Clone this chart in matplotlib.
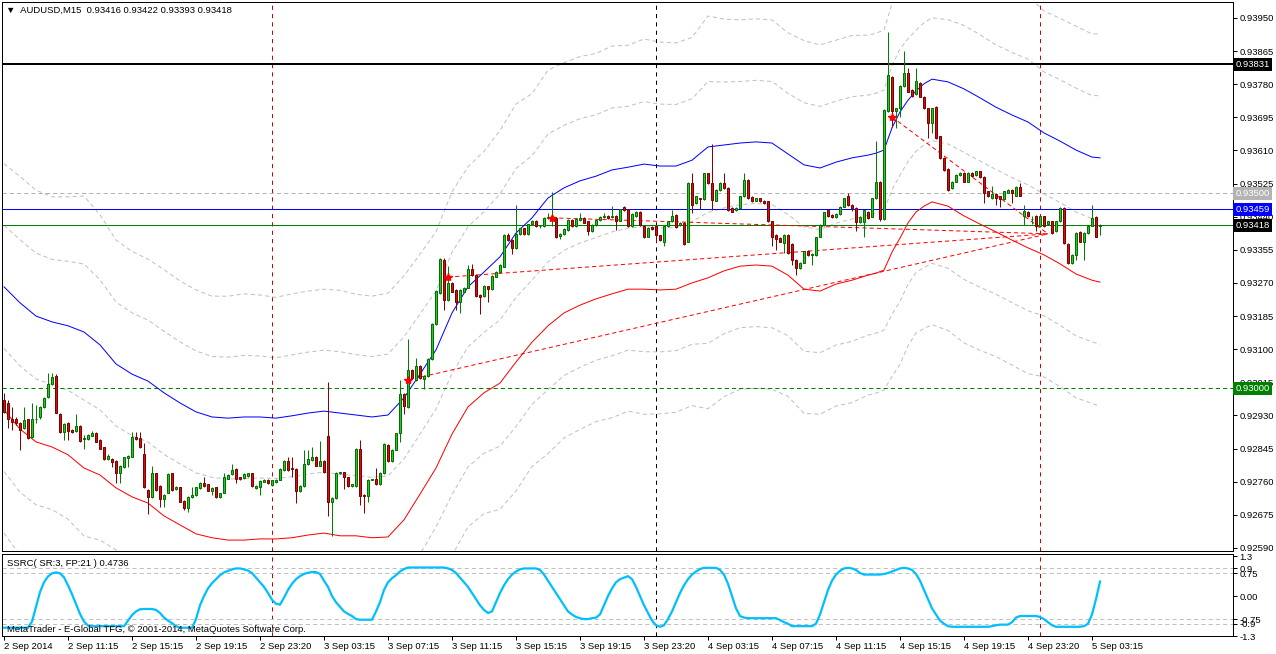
import matplotlib
matplotlib.use("Agg")
import matplotlib.pyplot as plt
import numpy as np

plt.rcParams['font.family'] = ['Liberation Sans', 'DejaVu Sans']
plt.rcParams['lines.scale_dashes'] = False

# prices are written in 1e-5 units (points)
opens = [
    92969, 92961, 92922, 92920, 92910, 92897, 92920, 92874, 92920, 92925,
    92951, 92976, 93010, 93031, 92934, 92888, 92911, 92892, 92890, 92903,
    92869, 92869, 92878, 92886, 92867, 92848, 92818, 92818, 92813, 92781,
    92798, 92820, 92824, 92874, 92871, 92831, 92739, 92720, 92781, 92749,
    92715, 92732, 92781, 92740, 92745, 92710, 92692, 92721, 92726, 92743,
    92756, 92753, 92737, 92745, 92720, 92732, 92768, 92779, 92792, 92771,
    92770, 92774, 92781, 92743, 92747, 92760, 92764, 92752, 92759, 92765,
    92790, 92812, 92795, 92792, 92737, 92749, 92806, 92816, 92823, 92801,
    92814, 92876, 92709, 92717, 92782, 92784, 92771, 92749, 92749, 92844,
    92726, 92722, 92765, 92767, 92753, 92782, 92854, 92812, 92842, 92884,
    92985, 92951, 93047, 93021, 93057, 93023, 93031, 93075, 93165, 93243,
    93329, 93226, 93271, 93252, 93222, 93248, 93258, 93306, 93291, 93239,
    93237, 93261, 93254, 93286, 93297, 93312, 93393, 93380, 93360, 93395,
    93410, 93395, 93420, 93430, 93415, 93416, 93436, 93437, 93436, 93391,
    93395, 93406, 93432, 93416, 93432, 93436, 93428, 93402, 93419, 93432,
    93439, 93442, 93439, 93442, 93430, 93466, 93459, 93415, 93442, 93453,
    93415, 93389, 93413, 93415, 93392, 93376, 93415, 93428, 93445, 93419,
    93425, 93376, 93526, 93475, 93487, 93485, 93551, 93526, 93481, 93509,
    93526, 93513, 93462, 93456, 93462, 93492, 93534, 93490, 93481, 93487,
    93481, 93479, 93428, 93393, 93385, 93372, 93393, 93370, 93329, 93308,
    93322, 93352, 93342, 93342, 93389, 93419, 93456, 93445, 93439, 93447,
    93466, 93493, 93470, 93462, 93427, 93427, 93453, 93440, 93487, 93530,
    93434, 93710, 93798, 93710, 93718, 93776, 93808, 93765, 93755, 93784,
    93748, 93718, 93680, 93721, 93646, 93590, 93563, 93513, 93530, 93547,
    93553, 93530, 93553, 93547, 93556, 93543, 93505, 93488, 93499, 93492,
    93485, 93502, 93509, 93494, 93517, 93441, 93453, 93433, 93442, 93415,
    93441, 93422, 93428, 93402, 93428, 93462, 93370, 93321, 93342, 93400,
    93376, 93398, 93417, 93439, 93416]
highs = [
    92987, 92969, 92952, 92925, 92912, 92952, 92922, 92961, 92957, 92955,
    92976, 93038, 93038, 93036, 92936, 92910, 92913, 92894, 92934, 92905,
    92880, 92882, 92890, 92888, 92869, 92850, 92830, 92820, 92815, 92802,
    92824, 92828, 92888, 92888, 92888, 92858, 92741, 92800, 92783, 92751,
    92728, 92782, 92783, 92749, 92747, 92712, 92723, 92747, 92747, 92758,
    92773, 92755, 92746, 92747, 92732, 92781, 92779, 92805, 92794, 92773,
    92781, 92783, 92783, 92751, 92764, 92766, 92766, 92764, 92766, 92794,
    92815, 92824, 92823, 92794, 92751, 92841, 92841, 92850, 92825, 92865,
    92816, 93015, 92720, 92784, 92786, 92786, 92773, 92755, 92846, 92867,
    92728, 92767, 92768, 92794, 92784, 92859, 92856, 92844, 92886, 93021,
    92987, 93126, 93049, 93077, 93059, 93033, 93077, 93167, 93252, 93334,
    93333, 93314, 93273, 93254, 93254, 93260, 93316, 93319, 93293, 93241,
    93264, 93263, 93291, 93301, 93318, 93395, 93398, 93382, 93470, 93412,
    93412, 93422, 93432, 93432, 93418, 93438, 93449, 93504, 93438, 93397,
    93410, 93434, 93434, 93436, 93449, 93438, 93430, 93421, 93434, 93442,
    93449, 93444, 93468, 93444, 93461, 93468, 93461, 93449, 93455, 93455,
    93417, 93414, 93415, 93417, 93394, 93417, 93430, 93456, 93447, 93427,
    93427, 93528, 93551, 93494, 93489, 93553, 93553, 93627, 93511, 93528,
    93551, 93515, 93464, 93464, 93494, 93551, 93536, 93492, 93489, 93489,
    93483, 93481, 93430, 93395, 93387, 93395, 93395, 93372, 93331, 93324,
    93353, 93354, 93346, 93389, 93421, 93453, 93458, 93447, 93449, 93468,
    93489, 93500, 93472, 93464, 93442, 93458, 93455, 93489, 93633, 93532,
    93716, 93915, 93800, 93720, 93778, 93864, 93821, 93767, 93821, 93786,
    93750, 93720, 93720, 93723, 93648, 93592, 93565, 93532, 93549, 93555,
    93555, 93555, 93555, 93558, 93558, 93545, 93507, 93519, 93501, 93494,
    93507, 93511, 93511, 93519, 93526, 93470, 93455, 93441, 93444, 93443,
    93443, 93430, 93430, 93430, 93464, 93464, 93372, 93344, 93400, 93402,
    93400, 93419, 93470, 93441, 93422]
lows = [
    92937, 92897, 92892, 92905, 92841, 92895, 92870, 92872, 92910, 92922,
    92949, 92974, 93008, 92935, 92886, 92867, 92867, 92885, 92888, 92863,
    92843, 92866, 92876, 92861, 92843, 92815, 92815, 92798, 92756, 92756,
    92796, 92798, 92822, 92867, 92846, 92743, 92677, 92718, 92737, 92696,
    92696, 92730, 92737, 92738, 92707, 92686, 92683, 92719, 92724, 92741,
    92747, 92735, 92726, 92719, 92718, 92730, 92766, 92777, 92756, 92765,
    92768, 92772, 92747, 92741, 92726, 92758, 92754, 92749, 92757, 92763,
    92788, 92788, 92773, 92706, 92733, 92747, 92804, 92814, 92799, 92799,
    92782, 92673, 92621, 92715, 92780, 92741, 92747, 92747, 92747, 92700,
    92679, 92709, 92763, 92751, 92751, 92780, 92810, 92810, 92840, 92863,
    92934, 92949, 93023, 93019, 93023, 92999, 93029, 93073, 93163, 93241,
    93201, 93224, 93246, 93201, 93194, 93246, 93256, 93289, 93235, 93191,
    93235, 93220, 93252, 93284, 93295, 93310, 93378, 93345, 93358, 93393,
    93393, 93393, 93418, 93413, 93410, 93414, 93434, 93416, 93385, 93382,
    93393, 93404, 93414, 93414, 93430, 93423, 93393, 93400, 93417, 93430,
    93437, 93434, 93437, 93406, 93428, 93455, 93413, 93413, 93440, 93417,
    93385, 93387, 93406, 93376, 93377, 93365, 93413, 93426, 93411, 93417,
    93368, 93374, 93449, 93473, 93459, 93483, 93524, 93457, 93479, 93507,
    93511, 93455, 93451, 93454, 93460, 93490, 93485, 93477, 93479, 93477,
    93473, 93426, 93365, 93355, 93374, 93346, 93344, 93316, 93291, 93306,
    93320, 93340, 93316, 93340, 93387, 93417, 93440, 93437, 93437, 93445,
    93464, 93468, 93455, 93402, 93425, 93389, 93434, 93438, 93485, 93428,
    93432, 93708, 93671, 93667, 93697, 93774, 93759, 93748, 93753, 93746,
    93716, 93641, 93654, 93639, 93588, 93558, 93507, 93511, 93528, 93545,
    93528, 93528, 93543, 93545, 93539, 93476, 93490, 93486, 93470, 93466,
    93483, 93500, 93476, 93492, 93492, 93419, 93439, 93420, 93402, 93413,
    93413, 93420, 93396, 93400, 93426, 93370, 93319, 93319, 93329, 93374,
    93329, 93396, 93415, 93387, 93393]
closes = [
    92940, 92922, 92914, 92910, 92892, 92918, 92872, 92922, 92921, 92952,
    92974, 93010, 93029, 92937, 92888, 92908, 92891, 92888, 92903, 92865,
    92873, 92880, 92886, 92863, 92845, 92817, 92826, 92811, 92781, 92800,
    92822, 92826, 92874, 92869, 92848, 92745, 92720, 92781, 92739, 92715,
    92726, 92780, 92739, 92747, 92709, 92692, 92721, 92726, 92745, 92756,
    92749, 92737, 92744, 92721, 92730, 92771, 92777, 92790, 92768, 92767,
    92779, 92781, 92749, 92749, 92762, 92764, 92756, 92763, 92765, 92792,
    92813, 92790, 92792, 92737, 92749, 92806, 92818, 92823, 92801, 92814,
    92784, 92709, 92717, 92782, 92784, 92771, 92749, 92753, 92844, 92724,
    92722, 92765, 92766, 92753, 92782, 92857, 92812, 92842, 92884, 92985,
    92953, 93047, 93025, 93057, 93025, 93031, 93075, 93165, 93250, 93332,
    93226, 93271, 93248, 93222, 93252, 93258, 93306, 93291, 93237, 93235,
    93262, 93254, 93289, 93299, 93316, 93393, 93380, 93360, 93395, 93410,
    93395, 93420, 93430, 93415, 93416, 93436, 93440, 93441, 93389, 93395,
    93408, 93432, 93416, 93434, 93436, 93425, 93402, 93419, 93432, 93440,
    93442, 93436, 93442, 93428, 93459, 93457, 93415, 93447, 93453, 93419,
    93387, 93412, 93408, 93392, 93379, 93415, 93428, 93442, 93413, 93425,
    93370, 93526, 93470, 93492, 93485, 93551, 93526, 93483, 93509, 93526,
    93513, 93457, 93453, 93462, 93492, 93534, 93487, 93479, 93487, 93479,
    93475, 93428, 93389, 93382, 93376, 93393, 93346, 93329, 93308, 93322,
    93351, 93342, 93344, 93387, 93419, 93451, 93442, 93439, 93447, 93466,
    93487, 93470, 93462, 93427, 93440, 93456, 93436, 93487, 93530, 93434,
    93714, 93804, 93710, 93718, 93776, 93808, 93761, 93750, 93787, 93748,
    93718, 93680, 93718, 93641, 93590, 93560, 93509, 93530, 93547, 93553,
    93530, 93553, 93545, 93556, 93541, 93502, 93492, 93499, 93488, 93485,
    93505, 93509, 93500, 93517, 93494, 93455, 93441, 93434, 93415, 93441,
    93415, 93428, 93398, 93428, 93462, 93372, 93321, 93342, 93398, 93376,
    93398, 93417, 93436, 93389, 93418]

# envelope (blue upper / red lower), read every few bars
band_bars = [0, 4, 8, 12, 16, 20, 24, 28, 32, 36, 40, 44, 48, 52, 56, 60, 64,
             68, 72, 76, 80, 84, 88, 92, 96, 100, 104, 108, 112, 116, 120, 124,
             128, 132, 136, 140, 144, 148, 152, 156, 160, 164, 168, 172, 176,
             180, 184, 188, 192, 196, 200, 204, 208, 212, 216, 218, 220, 222,
             224, 226, 228, 230, 232, 236, 240, 244, 248, 252, 256, 260, 264,
             268, 272, 274]
band_upper = [93260, 93219, 93185, 93170, 93160, 93144, 93111, 93062, 93036,
              93018, 92988, 92962, 92939, 92926, 92923, 92926, 92926, 92923,
              92929, 92936, 92941, 92936, 92931, 92926, 92931, 92975, 93036,
              93098, 93193, 93260, 93298, 93337, 93398, 93437, 93488, 93514,
              93532, 93544, 93560, 93567, 93575, 93570, 93570, 93585, 93619,
              93624, 93629, 93632, 93629, 93601, 93573, 93565, 93580, 93591,
              93598, 93603, 93611, 93668, 93709, 93739, 93763, 93781, 93793,
              93786, 93768, 93745, 93721, 93701, 93683, 93655, 93634, 93611,
              93593, 93591]
band_lower = [92944, 92895, 92862, 92849, 92829, 92795, 92777, 92744, 92721,
              92705, 92672, 92649, 92626, 92616, 92610, 92610, 92613, 92613,
              92616, 92623, 92628, 92621, 92621, 92616, 92618, 92662, 92728,
              92795, 92882, 92952, 92988, 93013, 93067, 93118, 93160, 93193,
              93213, 93229, 93242, 93254, 93254, 93252, 93254, 93270, 93283,
              93301, 93313, 93316, 93313, 93290, 93254, 93249, 93267, 93277,
              93290, 93295, 93303, 93349, 93385, 93424, 93452, 93467, 93478,
              93467, 93442, 93421, 93401, 93380, 93360, 93342, 93319, 93293,
              93277, 93272]

# pivots joined by red dashed lines to the last pivot
pivot_bars = [101, 111, 137, 222]
pivot_vals = [93021, 93285, 93437, 93696]
last_pivot_bar = 261
last_pivot_val = 93396

# SSRC oscillator
ssrc = [
    -1.03, -1.03, -1.03, -1.03, -1.03, -1.03, -1.03, -0.83, -0.35, 0.13,
    0.45, 0.64, 0.74, 0.77, 0.74, 0.61, 0.35, 0.06, -0.26, -0.58,
    -0.83, -0.96, -0.98, -0.98, -0.98, -0.98, -0.98, -0.98, -0.98, -0.98,
    -0.98, -0.8, -0.62, -0.5, -0.43, -0.42, -0.42, -0.42, -0.45, -0.55,
    -0.7, -0.8, -0.88, -0.98, -1.03, -1.03, -1.03, -1.03, -0.75, -0.3,
    0.0, 0.25, 0.42, 0.55, 0.68, 0.77, 0.82, 0.87, 0.9, 0.9,
    0.87, 0.83, 0.75, 0.6, 0.45, 0.3, 0.1, -0.12, -0.25, -0.28,
    -0.05, 0.2, 0.4, 0.55, 0.65, 0.72, 0.76, 0.78, 0.78, 0.72,
    0.5, 0.3, 0.0, -0.2, -0.35, -0.5, -0.58, -0.65, -0.75, -0.77,
    -0.77, -0.77, -0.77, -0.5, -0.2, 0.2, 0.45, 0.58, 0.68, 0.8,
    0.88, 0.93, 0.93, 0.93, 0.93, 0.93, 0.93, 0.93, 0.93, 0.93,
    0.93, 0.9, 0.85, 0.75, 0.6, 0.45, 0.3, 0.1, -0.1, -0.3,
    -0.45, -0.55, -0.5, -0.2, 0.1, 0.35, 0.55, 0.7, 0.8, 0.87,
    0.9, 0.9, 0.9, 0.9, 0.85, 0.7, 0.5, 0.3, 0.1, -0.1,
    -0.3, -0.5, -0.6, -0.68, -0.72, -0.75, -0.75, -0.72, -0.7, -0.6,
    -0.3, 0.0, 0.25, 0.45, 0.55, 0.6, 0.65, 0.55, 0.3, 0.0,
    -0.3, -0.55, -0.8, -0.95, -1.0, -0.95, -0.75, -0.5, -0.2, 0.1,
    0.35, 0.55, 0.7, 0.8, 0.88, 0.92, 0.92, 0.92, 0.92, 0.85,
    0.7, 0.4, 0.0, -0.4, -0.65, -0.7, -0.72, -0.72, -0.72, -0.72,
    -0.72, -0.72, -0.72, -0.72, -0.78, -0.85, -0.9, -0.98, -0.98, -0.98,
    -0.98, -0.98, -0.98, -0.9, -0.6, -0.2, 0.2, 0.5, 0.7, 0.82,
    0.9, 0.92, 0.9, 0.85, 0.75, 0.7, 0.7, 0.7, 0.7, 0.7,
    0.72, 0.75, 0.8, 0.85, 0.9, 0.92, 0.9, 0.85, 0.72, 0.5,
    0.2, -0.1, -0.4, -0.6, -0.8, -0.9, -0.98, -1.0, -1.0, -1.0,
    -1.0, -1.0, -1.0, -1.0, -1.0, -1.0, -1.0, -0.98, -0.95, -0.93,
    -0.93, -0.93, -0.85, -0.7, -0.65, -0.65, -0.65, -0.65, -0.65, -0.68,
    -0.75, -0.85, -0.95, -1.0, -1.0, -1.0, -1.0, -1.0, -1.0, -1.0,
    -0.98, -0.9, -0.6, -0.1, 0.4736]

price_ticks = [0.93950, 0.93865, 0.93780, 0.93695, 0.93610, 0.93525, 0.93440,
               0.93355, 0.93270, 0.93185, 0.93100, 0.93015, 0.92930, 0.92845,
               0.92760, 0.92675, 0.92590]
time_labels = ["2 Sep 2014", "2 Sep 11:15", "2 Sep 15:15", "2 Sep 19:15",
               "2 Sep 23:20", "3 Sep 03:15", "3 Sep 07:15", "3 Sep 11:15",
               "3 Sep 15:15", "3 Sep 19:15", "3 Sep 23:20", "4 Sep 03:15",
               "4 Sep 07:15", "4 Sep 11:15", "4 Sep 15:15", "4 Sep 19:15",
               "4 Sep 23:20", "5 Sep 03:15"]
day_breaks = [67, 163, 259]
day_colors = ['#d00000', '#000000', '#d00000']

# level lines: (price, line colour, dashed, label box colour)
levels = [(0.93831, '#000000', False, '#000000'),
          (0.93500, '#b4b4b4', True, '#b4b4b4'),
          (0.93459, '#0000ff', False, '#0000ff'),
          (0.93418, '#008000', False, '#000000'),
          (0.93000, '#008000', True, '#008000')]

P = 1e-5
o = np.array(opens) * P
h = np.array(highs) * P
l = np.array(lows) * P
c = np.array(closes) * P
x = np.arange(len(c))

W, H = 1276, 654
def box(left, top, right, bottom):
    return [left / W, 1 - bottom / H, (right - left) / W, (bottom - top) / H]

fig = plt.figure(figsize=(W / 100, H / 100), dpi=100)
ax = fig.add_axes(box(2, 2, 1233, 551))
ax2 = fig.add_axes(box(2, 554, 1233, 636))
px = 0.72  # one pixel in points
fs = 6.8
dash = (0, (3, 2.2))

# gray dashed envelope family around the blue/red pair
bx = np.array(band_bars)
up = np.array(band_upper) * P
lo = np.array(band_lower) * P
mid = (up + lo) / 2
half = (up - lo) / 2
for k in [-3, -2, 0, 2, 3]:
    ax.plot(bx, mid + k * half, color='#c0c0c0', lw=px, ls=dash, zorder=1)
ax.plot(bx, up, color='#0000ff', lw=px, zorder=2)
ax.plot(bx, lo, color='#ff0000', lw=px, zorder=2)

# horizontal levels
for val, col, dashed, _ in levels:
    lw = 2 * px if val == 0.93831 else px
    ax.axhline(val, color=col, lw=lw, ls=dash if dashed else '-', zorder=1.5)

# candles
bull = c >= o
body_lo = np.minimum(o, c)
body_h = np.maximum(np.abs(c - o), 0.4 * P)
ax.vlines(x[bull], l[bull], h[bull], color='#008000', lw=px, zorder=3)
ax.vlines(x[~bull], l[~bull], h[~bull], color='#8b0000', lw=px, zorder=3)
ax.bar(x[bull], body_h[bull], 0.6, bottom=body_lo[bull], color='#2ec42e',
       edgecolor='#007000', lw=px, zorder=4)
ax.bar(x[~bull], body_h[~bull], 0.6, bottom=body_lo[~bull], color='#c81414',
       edgecolor='#800000', lw=px, zorder=4)

# pivot lines
for b, v in zip(pivot_bars, pivot_vals):
    ax.plot([b, last_pivot_bar], [v * P, last_pivot_val * P], color='#ff0000',
            lw=px, ls=dash, zorder=2.5)
ax.plot(pivot_bars, np.array(pivot_vals) * P, ls='none', marker='*',
        color='#ff0000', ms=6, zorder=5)

for b, col in zip(day_breaks, day_colors):
    ax.axvline(b, color=col, lw=px, ls=(0, (3, 3)), zorder=1)
    ax2.axvline(b, color=col, lw=px, ls=(0, (3, 3)), zorder=1)

ax.set_xlim(-0.5, 307.25)
ax.set_ylim(0.92582, 0.93991)
ax.set_xticks([])
ax.yaxis.tick_right()
ax.set_yticks(price_ticks)
ax.set_yticklabels(['%.5f' % t for t in price_ticks])
ax.tick_params(axis='y', direction='out', length=3, width=px, pad=1.5,
               labelsize=fs)

ytr = ax.get_yaxis_transform()
for val, _, _, boxcol in levels:
    ax.text(1.0018, val, '%.5f' % val, transform=ytr, ha='left', va='center',
            fontsize=fs, color='white', clip_on=False, zorder=10,
            bbox=dict(boxstyle='square,pad=0.22', fc=boxcol, ec='none'))

# indicator panel
ax2.plot(x, ssrc, color='#00bfff', lw=1.6, zorder=3)
for lv in [0.9, 0.75, -0.75, -0.9]:
    ax2.axhline(lv, color='#c0c0c0', lw=px, ls=dash, zorder=1)
ax2.set_xlim(-0.5, 307.25)
ax2.set_ylim(-1.30, 1.37)
ax2.yaxis.tick_right()
ax2.set_yticks([1.3, 0.9, 0.75, 0.0, -0.75, -0.9, -1.3])
ax2.set_yticklabels(['1.3', '0.9', '0.75', '0.00', '-0.75', '-0.9', '-1.3'])
ax2.tick_params(axis='y', direction='out', length=3, width=px, pad=1.5,
                labelsize=fs)
ax2.set_xticks(np.arange(len(time_labels)) * 16)
ax2.set_xticklabels(time_labels)
ax2.tick_params(axis='x', direction='out', length=3, width=px, pad=1.5,
                labelsize=fs)
for t in ax2.get_xticklabels():
    t.set_ha('left')

for a in (ax, ax2):
    for s in a.spines.values():
        s.set_linewidth(px)
        s.set_color('black')

fig.text(6 / W, 1 - 10 / H, '\u25bc  AUDUSD,M15  0.93416 0.93422 0.93393 0.93418',
         fontsize=fs, va='center', ha='left')
fig.text(7 / W, 1 - 564 / H, 'SSRC( SR:3, FP:21 ) 0.4736', fontsize=fs,
         va='center', ha='left')
fig.text(7 / W, 1 - 629 / H,
         'MetaTrader - E-Global TFG, \u00a9 2001-2014, MetaQuotes Software Corp.',
         fontsize=fs, va='center', ha='left')

fig.savefig('out.png', dpi=100)
